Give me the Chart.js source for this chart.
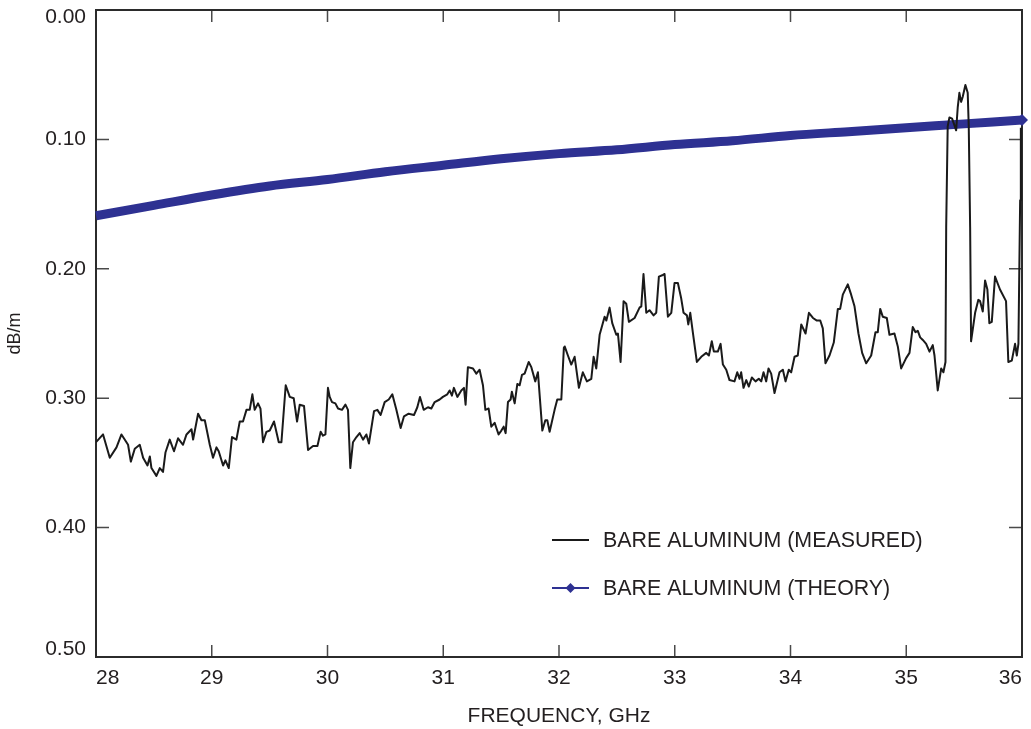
<!DOCTYPE html>
<html>
<head>
<meta charset="utf-8">
<title>Bare aluminum attenuation</title>
<script src="https://cdn.jsdelivr.net/npm/chart.js@4.4.0/dist/chart.umd.min.js"></script>
<style>
  html, body { margin: 0; padding: 0; background: #fff; }
</style>
</head>
<body>
<canvas id="chart" width="1031" height="729"></canvas>
<script>
// Frecuencia (GHz) y pérdida medida (dB/m)
const measuredFreq = [
  28.000, 28.061, 28.119, 28.177, 28.220, 28.277, 28.301, 28.335, 28.378, 28.407, 28.445, 28.465, 28.479, 28.522, 28.551, 28.579,
  28.600, 28.637, 28.674, 28.709, 28.752, 28.782, 28.825, 28.839, 28.882, 28.911, 28.940, 28.983, 29.011, 29.041, 29.060, 29.098,
  29.118, 29.147, 29.175, 29.213, 29.242, 29.270, 29.300, 29.328, 29.351, 29.371, 29.400, 29.421, 29.443, 29.472, 29.501, 29.538,
  29.579, 29.602, 29.639, 29.674, 29.708, 29.737, 29.760, 29.797, 29.832, 29.875, 29.913, 29.941, 29.961, 29.982, 30.004, 30.019,
  30.039, 30.068, 30.091, 30.125, 30.155, 30.177, 30.197, 30.220, 30.250, 30.278, 30.307, 30.336, 30.358, 30.402, 30.431, 30.459,
  30.494, 30.529, 30.560, 30.595, 30.632, 30.661, 30.701, 30.747, 30.776, 30.799, 30.831, 30.868, 30.897, 30.926, 30.969, 30.997,
  31.035, 31.055, 31.075, 31.092, 31.122, 31.156, 31.179, 31.193, 31.213, 31.257, 31.286, 31.314, 31.343, 31.364, 31.392, 31.415,
  31.444, 31.459, 31.478, 31.502, 31.522, 31.539, 31.559, 31.582, 31.593, 31.617, 31.640, 31.660, 31.680, 31.703, 31.738, 31.761,
  31.795, 31.818, 31.856, 31.882, 31.899, 31.919, 31.962, 31.985, 32.020, 32.042, 32.049, 32.077, 32.106, 32.135, 32.172, 32.206,
  32.241, 32.279, 32.299, 32.322, 32.351, 32.394, 32.409, 32.437, 32.460, 32.495, 32.509, 32.532, 32.558, 32.581, 32.604, 32.653,
  32.696, 32.711, 32.730, 32.754, 32.782, 32.817, 32.840, 32.863, 32.892, 32.912, 32.941, 32.970, 32.998, 33.027, 33.056, 33.076,
  33.105, 33.117, 33.134, 33.156, 33.191, 33.229, 33.272, 33.295, 33.320, 33.338, 33.372, 33.396, 33.416, 33.445, 33.473, 33.516,
  33.540, 33.560, 33.574, 33.594, 33.618, 33.640, 33.666, 33.698, 33.726, 33.747, 33.767, 33.790, 33.810, 33.833, 33.862, 33.905,
  33.934, 33.957, 33.985, 34.006, 34.035, 34.063, 34.093, 34.130, 34.159, 34.194, 34.228, 34.257, 34.279, 34.302, 34.337, 34.374,
  34.409, 34.429, 34.452, 34.495, 34.524, 34.553, 34.587, 34.619, 34.654, 34.697, 34.734, 34.754, 34.775, 34.797, 34.832, 34.855,
  34.898, 34.927, 34.956, 34.999, 35.028, 35.056, 35.080, 35.100, 35.120, 35.143, 35.172, 35.201, 35.229, 35.244, 35.272, 35.302,
  35.321, 35.339, 35.345, 35.358, 35.373, 35.396, 35.416, 35.431, 35.445, 35.459, 35.474, 35.488, 35.511, 35.531, 35.540, 35.552,
  35.560, 35.595, 35.623, 35.638, 35.661, 35.681, 35.701, 35.718, 35.739, 35.767, 35.810, 35.862, 35.882, 35.912, 35.940, 35.955,
  35.969, 35.984, 35.990
];
const measuredLoss = [
  0.334, 0.328, 0.346, 0.338, 0.328, 0.336, 0.349, 0.339, 0.336, 0.346, 0.352, 0.345, 0.354, 0.360, 0.354, 0.357,
  0.342, 0.332, 0.341, 0.331, 0.336, 0.328, 0.324, 0.332, 0.312, 0.317, 0.317, 0.336, 0.346, 0.338, 0.341, 0.352,
  0.348, 0.354, 0.330, 0.332, 0.318, 0.318, 0.309, 0.309, 0.297, 0.309, 0.304, 0.308, 0.334, 0.326, 0.325, 0.318,
  0.334, 0.334, 0.290, 0.299, 0.300, 0.318, 0.305, 0.306, 0.340, 0.337, 0.337, 0.326, 0.329, 0.328, 0.292, 0.299,
  0.303, 0.304, 0.308, 0.309, 0.305, 0.309, 0.354, 0.334, 0.330, 0.327, 0.332, 0.328, 0.335, 0.310, 0.309, 0.313,
  0.303, 0.301, 0.297, 0.309, 0.323, 0.314, 0.312, 0.313, 0.307, 0.299, 0.309, 0.307, 0.308, 0.303, 0.301, 0.299,
  0.297, 0.294, 0.298, 0.292, 0.299, 0.294, 0.292, 0.305, 0.276, 0.277, 0.281, 0.278, 0.290, 0.309, 0.308, 0.322,
  0.319, 0.323, 0.328, 0.325, 0.322, 0.327, 0.303, 0.301, 0.295, 0.304, 0.289, 0.290, 0.282, 0.281, 0.272, 0.276,
  0.287, 0.280, 0.325, 0.317, 0.317, 0.326, 0.309, 0.301, 0.301, 0.261, 0.260, 0.267, 0.274, 0.268, 0.292, 0.280,
  0.287, 0.285, 0.268, 0.277, 0.251, 0.237, 0.240, 0.230, 0.242, 0.251, 0.250, 0.272, 0.225, 0.227, 0.241, 0.238,
  0.230, 0.229, 0.204, 0.234, 0.232, 0.236, 0.234, 0.206, 0.205, 0.204, 0.237, 0.234, 0.211, 0.211, 0.223, 0.234,
  0.236, 0.243, 0.234, 0.249, 0.272, 0.268, 0.265, 0.267, 0.256, 0.264, 0.264, 0.258, 0.274, 0.278, 0.286, 0.287,
  0.280, 0.285, 0.280, 0.292, 0.286, 0.291, 0.284, 0.287, 0.285, 0.287, 0.280, 0.287, 0.277, 0.281, 0.296, 0.280,
  0.278, 0.287, 0.278, 0.280, 0.268, 0.267, 0.243, 0.250, 0.234, 0.238, 0.240, 0.240, 0.246, 0.273, 0.267, 0.257,
  0.231, 0.231, 0.220, 0.212, 0.220, 0.229, 0.250, 0.265, 0.273, 0.267, 0.249, 0.249, 0.231, 0.237, 0.238, 0.251,
  0.250, 0.260, 0.277, 0.269, 0.265, 0.245, 0.249, 0.248, 0.253, 0.255, 0.258, 0.264, 0.259, 0.267, 0.294, 0.277,
  0.280, 0.272, 0.168, 0.090, 0.083, 0.084, 0.089, 0.093, 0.075, 0.064, 0.071, 0.067, 0.058, 0.064, 0.090, 0.168,
  0.256, 0.234, 0.224, 0.225, 0.233, 0.209, 0.216, 0.242, 0.241, 0.206, 0.216, 0.225, 0.272, 0.271, 0.258, 0.267,
  0.258, 0.147, 0.091
];

// Curva teórica
const theoryFreq = [28, 28.5, 29, 29.5, 30, 30.5, 31, 31.5, 32, 32.5, 33, 33.5, 34, 34.5, 35, 35.5, 36];
const theoryLoss = [0.159, 0.151, 0.143, 0.136, 0.131, 0.125, 0.120, 0.115, 0.111, 0.108, 0.104, 0.101, 0.097, 0.094, 0.091, 0.088, 0.085];

const FONT = "'Liberation Sans', Arial, Helvetica, sans-serif";
const TEXT = '#231f20';
const BLUE = '#2e3192';
Chart.defaults.font.family = FONT;
Chart.defaults.color = TEXT;

const measured = measuredFreq.map((f, i) => ({ x: f, y: measuredLoss[i] }));
const theory = theoryFreq.map((f, i) => ({ x: f, y: theoryLoss[i] }));

// Marco y marcas hacia adentro en los 4 lados
const frame = {
  id: 'frame',
  beforeDatasetsDraw(chart) {
    const { ctx, chartArea: a, scales: { x, y } } = chart;
    ctx.save();
    ctx.strokeStyle = '#4a4a4a';
    ctx.lineWidth = 1.5;
    ctx.beginPath();
    x.ticks.forEach(t => {
      const px = x.getPixelForValue(t.value);
      if (px <= a.left + 1 || px >= a.right - 1) return;
      ctx.moveTo(px, a.bottom); ctx.lineTo(px, a.bottom - 12);
      ctx.moveTo(px, a.top); ctx.lineTo(px, a.top + 12);
    });
    y.ticks.forEach(t => {
      const py = y.getPixelForValue(t.value);
      if (py <= a.top + 1 || py >= a.bottom - 1) return;
      ctx.moveTo(a.left, py); ctx.lineTo(a.left + 13, py);
      ctx.moveTo(a.right, py); ctx.lineTo(a.right - 13, py);
    });
    ctx.stroke();
    ctx.strokeStyle = '#2b2b2b';
    ctx.lineWidth = 2;
    ctx.strokeRect(a.left, a.top, a.right - a.left, a.bottom - a.top);
    ctx.restore();
  }
};

// Etiquetas 0.00 y 0.50 hacia adentro del eje
const nudgeEnds = {
  id: 'nudgeEnds',
  beforeDraw(chart) {
    const items = chart.scales.y.getLabelItems();
    if (!items.length || items._nudged) return;
    const sorted = items.slice().sort((a, b) => a.options.translation[1] - b.options.translation[1]);
    sorted[0].options.translation[1] += 7;
    sorted[sorted.length - 1].options.translation[1] -= 8;
    items._nudged = true;
  }
};

// Leyenda dentro del area del grafico
const insideLegend = {
  id: 'insideLegend',
  afterDraw(chart) {
    const { ctx } = chart;
    chart.data.datasets.forEach((ds, i) => {
      const y = 540 + i * 48;
      ctx.save();
      ctx.strokeStyle = ds.borderColor;
      ctx.lineWidth = 2;
      ctx.beginPath();
      ctx.moveTo(552, y);
      ctx.lineTo(589, y);
      ctx.stroke();
      if (ds.legendMarker) {
        ctx.fillStyle = ds.borderColor;
        ctx.beginPath();
        ctx.moveTo(570.5, y - 5);
        ctx.lineTo(575.5, y);
        ctx.lineTo(570.5, y + 5);
        ctx.lineTo(565.5, y);
        ctx.closePath();
        ctx.fill();
      }
      ctx.fillStyle = TEXT;
      ctx.font = '21.4px ' + FONT;
      ctx.textBaseline = 'middle';
      ctx.fillText(ds.label, 603, y + 1);
      ctx.restore();
    });
  }
};

new Chart(document.getElementById('chart'), {
  type: 'line',
  data: {
    datasets: [{
      label: 'BARE ALUMINUM (MEASURED)',
      data: measured,
      borderColor: '#1a1a1a',
      borderWidth: 2,
      borderJoinStyle: 'round',
      pointRadius: 0,
      tension: 0
    }, {
      label: 'BARE ALUMINUM (THEORY)',
      data: theory,
      borderColor: BLUE,
      backgroundColor: BLUE,
      borderWidth: 9,
      cubicInterpolationMode: 'monotone',
      pointStyle: 'rectRot',
      pointRadius: ctx => ctx.dataIndex === theoryFreq.length - 1 ? 6 : 0,
      pointBorderWidth: 0,
      legendMarker: true,
      clip: false
    }]
  },
  options: {
    responsive: false,
    animation: false,
    layout: { padding: { top: 10, right: 9, left: 0, bottom: 0 } },
    plugins: {
      legend: { display: false },
      tooltip: { enabled: false }
    },
    scales: {
      x: {
        type: 'linear',
        min: 28,
        max: 36,
        border: { display: false },
        grid: { display: false, drawTicks: false },
        ticks: { stepSize: 1, align: 'inner', padding: 9, font: { size: 21 }, color: TEXT },
        title: { display: true, text: 'FREQUENCY, GHz', font: { size: 21 }, color: TEXT, padding: { top: 0, bottom: 0 } },
        afterFit: s => { s.height = 72; s.paddingLeft = 0; s.paddingRight = 0; }
      },
      y: {
        min: 0,
        max: 0.5,
        reverse: true,
        border: { display: false },
        grid: { display: false, drawTicks: false },
        ticks: { stepSize: 0.1, padding: 10, font: { size: 21 }, color: TEXT, callback: v => v.toFixed(2) },
        title: { display: true, text: 'dB/m', font: { size: 18 }, color: TEXT, padding: { top: 4, bottom: 0 } },
        afterFit: s => { s.width = 96; s.paddingTop = 0; s.paddingBottom = 0; }
      }
    }
  },
  plugins: [frame, nudgeEnds, insideLegend]
});
</script>
</body>
</html>
